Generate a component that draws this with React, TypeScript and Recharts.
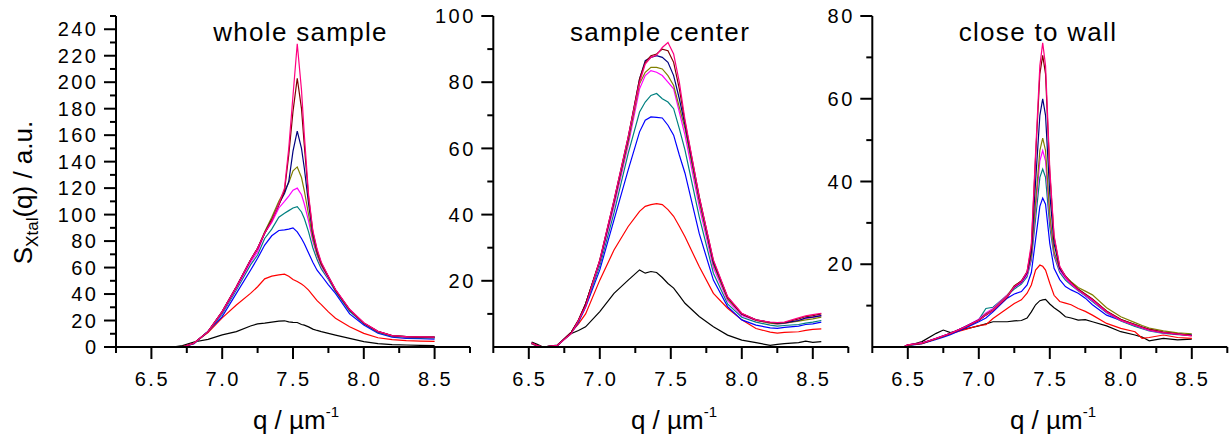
import { LineChart, Line, XAxis, YAxis } from "recharts";

const FONT = '"Liberation Sans", Arial, sans-serif';

// black, red, blue, dark cyan, magenta, olive, navy, wine, pink (drawing order)
const COLORS = [
  "#000000", "#ff0000", "#0000ff", "#008080", "#ff00ff",
  "#808000", "#000080", "#800000", "#ff0080",
];

const Q_TICKS = [6.25, 6.5, 6.75, 7.0, 7.25, 7.5, 7.75, 8.0, 8.25, 8.5, 8.75];

// ---- whole sample ----
const wholeQ = [6.65, 6.72, 6.8, 6.9, 7.0, 7.1, 7.2, 7.25, 7.3, 7.35, 7.4, 7.44, 7.47, 7.5, 7.53, 7.56, 7.58, 7.61, 7.64, 7.67, 7.7, 7.75, 7.8, 7.9, 8.0, 8.1, 8.2, 8.3, 8.4, 8.5];
const wholeBlack = [0, 1, 3.8, 5.8, 9.1, 11.6, 15.9, 17.4, 18, 18.8, 19.5, 19.8, 19, 18.6, 18.5, 17, 16.5, 15.2, 13.5, 12.5, 11.6, 10.3, 9, 6.5, 4, 2.5, 1.8, 1.5, 1.2, 1.0];
const wholeRed = [0, 0.3, 3, 11, 22, 31.7, 40.5, 45.5, 51.5, 53.5, 54.5, 55, 53.5, 51, 49.5, 47.5, 46, 43, 39, 35, 32, 26.5, 21.7, 15.3, 10.3, 7, 5.5, 4.8, 4.5, 4.2];
const wholeBlue = [0, 0, 2.5, 12, 22.9, 40.5, 58, 67, 77, 84, 88, 88.5, 89, 90, 87, 82, 78, 71, 64, 58, 54, 47, 40.5, 25, 16.6, 10.5, 7.5, 6.5, 6.3, 6.0];
const wholeTeal = [0, 0, 2.5, 11.5, 25, 43, 62, 69.5, 82, 89, 98, 101, 103, 105, 106, 102, 97, 87, 75, 66, 59, 51, 42, 27, 17.5, 11, 8, 7, 6.8, 6.6];
const wholeMagenta = [0, 0, 2.7, 11.6, 26, 44.5, 64, 72, 86, 94, 105, 110, 114, 118.5, 120, 115, 108, 95, 80, 69, 61, 52, 43, 28, 18, 11.5, 8.5, 7.5, 7.3, 7.0];
const wholeOlive = [0, 0, 2.8, 11.6, 26.7, 45.5, 65.7, 74.5, 87, 98, 110, 118, 124, 133, 136, 128, 118, 100, 82, 70, 62, 53, 43, 28, 18, 11.6, 8.5, 7.8, 7.5, 7.5];
const wholeNavy = [0, 0, 2.8, 11.6, 26.7, 45.5, 65.7, 74.5, 86, 96, 108, 116, 125, 148, 163, 150, 135, 108, 85, 72, 63, 53, 43, 28, 18, 11.6, 8.5, 7.8, 7.5, 7.4];
const wholeWine = [0, 0, 2.8, 11.6, 26.7, 45.5, 65.7, 74.5, 86, 96, 107, 118, 145, 178, 203, 180, 152, 113, 87, 73, 63, 53, 43, 28, 18.2, 11.8, 8.6, 7.8, 7.5, 7.4];
const wholePink = [0, 0, 2.8, 11.6, 26.7, 45.5, 65.7, 74.5, 86, 95, 108, 120, 150, 190, 229, 194, 160, 115, 88, 74, 64, 53.5, 43.5, 28.5, 18.3, 11.8, 8.6, 7.9, 7.6, 7.5];

// ---- sample center ----
const centerQ = [6.52, 6.56, 6.6, 6.7, 6.8, 6.85, 6.9, 7.0, 7.1, 7.2, 7.28, 7.32, 7.36, 7.4, 7.44, 7.48, 7.52, 7.56, 7.6, 7.7, 7.8, 7.9, 8.0, 8.1, 8.2, 8.25, 8.3, 8.4, 8.45, 8.5, 8.56];
const centerBlack = [1.5, 0.8, 0, 0.6, 4.1, 5.0, 6.1, 10.7, 16.2, 20.2, 23.3, 22.3, 22.8, 22.5, 21, 19.2, 17.8, 15.5, 13.2, 9.2, 6.1, 3.6, 2.1, 1.3, 0.5, 0.8, 1.0, 1.3, 1.8, 1.4, 1.6];
const centerRed = [1.2, 0.5, 0, 0.4, 4.5, 7, 10, 20.2, 29.3, 36.4, 41, 42.5, 43, 43.3, 43, 41.5, 39.5, 36.5, 33.3, 24.3, 16.2, 11.7, 8.2, 5.6, 4.5, 4.2, 4.4, 4.6, 5.0, 5.3, 5.5];
const centerBlue = [1.0, 0.3, 0, 0.3, 4.3, 7.5, 12, 23.3, 38.4, 53.5, 65, 68.5, 69.5, 69.4, 69.2, 67, 64, 58, 52.5, 34.3, 20.2, 12.2, 8.2, 6.6, 5.8, 5.6, 5.9, 6.3, 6.8, 7.0, 7.5];
const centerTeal = [1.0, 0.3, 0, 0.4, 4.4, 7.8, 12.5, 24.5, 40.5, 58.5, 71, 74, 76, 76.6, 75, 74, 72, 66, 59.5, 39.4, 22.3, 13, 9, 7.5, 6.6, 6.3, 6.5, 6.8, 7.2, 7.5, 8.0];
const centerMagenta = [1.0, 0.3, 0, 0.4, 4.5, 8, 13, 25.5, 42.5, 61, 78, 82, 83.5, 83, 82, 80, 78, 71, 64, 42.5, 24, 14, 9.5, 8, 7.2, 7.0, 7.1, 8.0, 8.6, 9.0, 9.5];
const centerOlive = [1.0, 0.3, 0, 0.4, 4.5, 8, 13, 26, 43.5, 62, 79.5, 83, 84.5, 84.5, 84, 82, 79, 72.5, 66, 44, 25, 14.5, 10, 8, 7.2, 7.0, 7.2, 7.8, 8.2, 8.5, 9.0];
const centerNavy = [1.2, 0.4, 0, 0.5, 4.5, 8, 13, 26, 44, 63, 81, 86.5, 87.5, 88, 87.5, 86, 82, 75, 67, 45, 25.5, 15, 10, 8.2, 7.4, 7.2, 7.3, 8.0, 8.8, 9.0, 9.5];
const centerWine = [1.2, 0.4, 0, 0.5, 4.5, 8.2, 13, 26.3, 44.3, 63.5, 81, 86, 88, 88.5, 90, 89.5, 86, 78, 68, 45.5, 26, 15, 10, 8.2, 7.4, 7.3, 7.4, 8.5, 9.2, 9.5, 10.0];
const centerPink = [1.2, 0.4, 0, 0.5, 4.1, 8, 12.2, 26.3, 44.4, 63.5, 80, 85.5, 87.5, 88.2, 90.5, 92, 88.5, 80, 68.6, 45.4, 26.3, 15.2, 10.2, 8.2, 7.5, 7.4, 7.5, 8.8, 9.4, 9.8, 10.2];

// ---- close to wall ----
const wallQ = [6.47, 6.5, 6.6, 6.7, 6.75, 6.8, 6.9, 7.0, 7.05, 7.1, 7.2, 7.25, 7.3, 7.34, 7.37, 7.4, 7.43, 7.45, 7.47, 7.5, 7.53, 7.57, 7.61, 7.65, 7.7, 7.75, 7.8, 7.9, 8.0, 8.1, 8.15, 8.2, 8.3, 8.4, 8.5];
const wallBlack = [0, 0.3, 1.3, 3.3, 4.1, 3.5, 4.3, 5.1, 5.6, 6.1, 6.1, 6.3, 6.4, 7.0, 8.5, 10.2, 11.2, 11.4, 11.5, 10.4, 9.5, 8.5, 7.3, 7.0, 6.5, 6.6, 6.1, 5.1, 3.7, 2.9, 2.4, 1.5, 2.1, 1.7, 1.9];
const wallRed = [0, 0.5, 1.0, 2.0, 2.6, 3.2, 4.2, 5.2, 5.4, 6.9, 9.3, 10.5, 11.4, 13, 15, 18.6, 19.8, 19.5, 18.6, 15.4, 12.5, 11, 10.6, 10.2, 9.3, 8.6, 7.7, 5.7, 4.5, 3.7, 2.1, 2.3, 2.9, 2.3, 2.1];
const wallBlue = [0, 0.3, 0.8, 1.8, 2.4, 3.0, 4.5, 6.1, 7.0, 8.5, 11.8, 12.8, 13.4, 15.0, 18, 26, 34, 36, 34.5, 25, 19, 16.3, 14.6, 13.8, 13, 11.8, 10.2, 7.7, 6.4, 5.1, 4.6, 4.1, 3.5, 3.1, 2.9];
const wallTeal = [0, 0.4, 0.9, 2.0, 2.6, 3.2, 4.9, 6.6, 9.3, 9.6, 12.5, 14.0, 15.2, 17.0, 21, 31, 41, 43, 41, 29, 22, 18, 16.2, 15.0, 13.6, 12.4, 11.0, 8.3, 6.3, 5.0, 4.4, 3.9, 3.3, 3.0, 2.8];
const wallMagenta = [0, 0.5, 1.0, 2.1, 2.7, 3.3, 4.8, 6.7, 8.2, 9.3, 12.6, 14.4, 15.5, 17.4, 21.5, 33.5, 45, 47.5, 45, 31, 22.5, 18.5, 16.6, 15.2, 13.7, 12.5, 11.2, 8.4, 6.4, 5.2, 4.6, 4.0, 3.4, 3.1, 2.7];
const wallOlive = [0, 0.4, 0.9, 2.0, 2.6, 3.3, 4.7, 6.5, 8.0, 9.0, 12.4, 14.8, 15.9, 18.0, 22, 35, 47.5, 50.5, 47.5, 32, 23, 19, 17.0, 15.8, 14.4, 13.5, 12.6, 9.5, 7.3, 5.9, 5.2, 4.6, 3.9, 3.4, 3.2];
const wallNavy = [0, 0.5, 0.9, 2.1, 2.7, 3.3, 4.8, 6.5, 7.8, 8.9, 12.1, 14.5, 15.7, 17.9, 23, 40, 56, 60, 56, 37, 25, 19, 17.0, 15.5, 13.9, 12.7, 11.5, 8.6, 6.6, 5.4, 4.8, 4.2, 3.5, 3.1, 2.8];
const wallWine = [0, 0.5, 0.8, 2.0, 2.6, 3.2, 4.7, 6.4, 7.7, 8.8, 12.0, 14.7, 16.0, 18.2, 24, 46, 66, 70.5, 66, 42, 26.5, 19.3, 17.2, 15.6, 14.0, 12.8, 11.6, 8.7, 6.7, 5.4, 4.8, 4.3, 3.6, 3.2, 2.8];
const wallPink = [0, 0.5, 0.9, 2.1, 2.7, 3.3, 4.8, 6.5, 7.8, 8.9, 12.2, 14.6, 15.8, 18.2, 25, 47, 68, 73.5, 68, 43, 27, 19.5, 17, 15.4, 13.8, 12.6, 11.4, 8.5, 6.5, 5.3, 4.7, 4.1, 3.5, 3.1, 2.7];

const WHOLE_Y_TICKS = [0, 10, 20, 30, 40, 50, 60, 70, 80, 90, 100, 110, 120, 130, 140, 150, 160, 170, 180, 190, 200, 210, 220, 230, 240, 250];
const CENTER_Y_TICKS = [10, 20, 30, 40, 50, 60, 70, 80, 90, 100];
const WALL_Y_TICKS = [10, 20, 30, 40, 50, 60, 70, 80];

type Row = Record<string, number>;

function toRows(q: number[], runs: number[][]): Row[] {
  return q.map((v, i) => {
    const r: Row = { q: v };
    runs.forEach((s, k) => (r["s" + k] = s[i]));
    return r;
  });
}

const panels = [
  {
    title: "whole sample",
    data: toRows(wholeQ, [wholeBlack, wholeRed, wholeBlue, wholeTeal, wholeMagenta, wholeOlive, wholeNavy, wholeWine, wholePink]),
    yMax: 250, yTicks: WHOLE_Y_TICKS,
    left: 0, width: 480, yWidth: 116, right: 10,
  },
  {
    title: "sample center",
    data: toRows(centerQ, [centerBlack, centerRed, centerBlue, centerTeal, centerMagenta, centerOlive, centerNavy, centerWine, centerPink]),
    yMax: 100, yTicks: CENTER_Y_TICKS,
    left: 420, width: 440, yWidth: 73.3, right: 11.7,
  },
  {
    title: "close to wall",
    data: toRows(wallQ, [wallBlack, wallRed, wallBlue, wallTeal, wallMagenta, wallOlive, wallNavy, wallWine, wallPink]),
    yMax: 80, yTicks: WALL_Y_TICKS,
    left: 800, width: 432, yWidth: 72.3, right: 4.7,
  },
];

const H = 439;
const TOP = 16;
const X_AXIS_H = 92;

function XTick(props: any) {
  const { x, y, payload } = props;
  const v = payload.value as number;
  const major = Math.abs(v * 2 - Math.round(v * 2)) < 1e-6;
  return (
    <g>
      <line x1={x} x2={x} y1={y} y2={y + (major ? 12 : 6)} stroke="#000" strokeWidth={2} />
      {major && (
        <text x={x + 1} y={y + 39} textAnchor="middle" fontSize={20} letterSpacing={2.5} fontFamily={FONT} fill="#000">
          {v.toFixed(1)}
        </text>
      )}
    </g>
  );
}

function YTick(props: any) {
  const { x, y, payload } = props;
  const v = payload.value as number;
  const major = v % 20 === 0;
  return (
    <g>
      <line x1={x - (major ? 12 : 6)} x2={x} y1={y} y2={y} stroke="#000" strokeWidth={2} />
      {major && (
        <text x={x - 17.5} y={y} dy="0.36em" textAnchor="end" fontSize={20} letterSpacing={2.5} fontFamily={FONT} fill="#000">
          {v}
        </text>
      )}
    </g>
  );
}

export default function App() {
  return (
    <div style={{ position: "absolute", left: 0, top: 0, width: 1232, height: H, background: "#fff", overflow: "hidden" }}>
      {panels.map((p) => (
        <div key={p.title} style={{ position: "absolute", left: p.left, top: 0 }}>
          <LineChart width={p.width} height={H} data={p.data} margin={{ top: TOP, right: p.right, bottom: 0, left: 0 }}>
            <XAxis
              type="number"
              dataKey="q"
              domain={[6.25, 8.75]}
              ticks={Q_TICKS}
              interval={0}
              allowDataOverflow
              height={X_AXIS_H}
              tickSize={0}
              tickMargin={0}
              tickLine={false}
              axisLine={{ stroke: "#000", strokeWidth: 2 }}
              tick={XTick}
            />
            <YAxis
              type="number"
              domain={[0, p.yMax]}
              ticks={p.yTicks}
              interval={0}
              allowDataOverflow
              width={p.yWidth}
              tickSize={0}
              tickMargin={0}
              tickLine={false}
              axisLine={{ stroke: "#000", strokeWidth: 2 }}
              tick={YTick}
            />
            {COLORS.map((c, k) => (
              <Line
                key={c}
                type="linear"
                dataKey={"s" + k}
                stroke={c}
                strokeWidth={1.2}
                dot={false}
                activeDot={false}
                isAnimationActive={false}
              />
            ))}
          </LineChart>
        </div>
      ))}
      <svg width={1232} height={H} style={{ position: "absolute", left: 0, top: 0, pointerEvents: "none" }} fontFamily={FONT}>
        <text x={300.5} y={41} textAnchor="middle" fontSize={26} letterSpacing={1.3}>whole sample</text>
        <text x={660} y={41} textAnchor="middle" fontSize={26} letterSpacing={1.3}>sample center</text>
        <text x={1038} y={41} textAnchor="middle" fontSize={26} letterSpacing={1.3}>close to wall</text>
        {[296, 674, 1053].map((cx) => (
          <text key={cx} x={cx} y={429} textAnchor="middle" fontSize={26}>
            q / µm<tspan fontSize={15} dy={-12}>-1</tspan>
          </text>
        ))}
        <text x={32} y={192.5} transform="rotate(-90 32 192.5)" textAnchor="middle" fontSize={26}>
          S<tspan fontSize={17} dy={6}>Xtal</tspan>
          <tspan dy={-6}>(q) / a.u.</tspan>
        </text>
      </svg>
    </div>
  );
}
